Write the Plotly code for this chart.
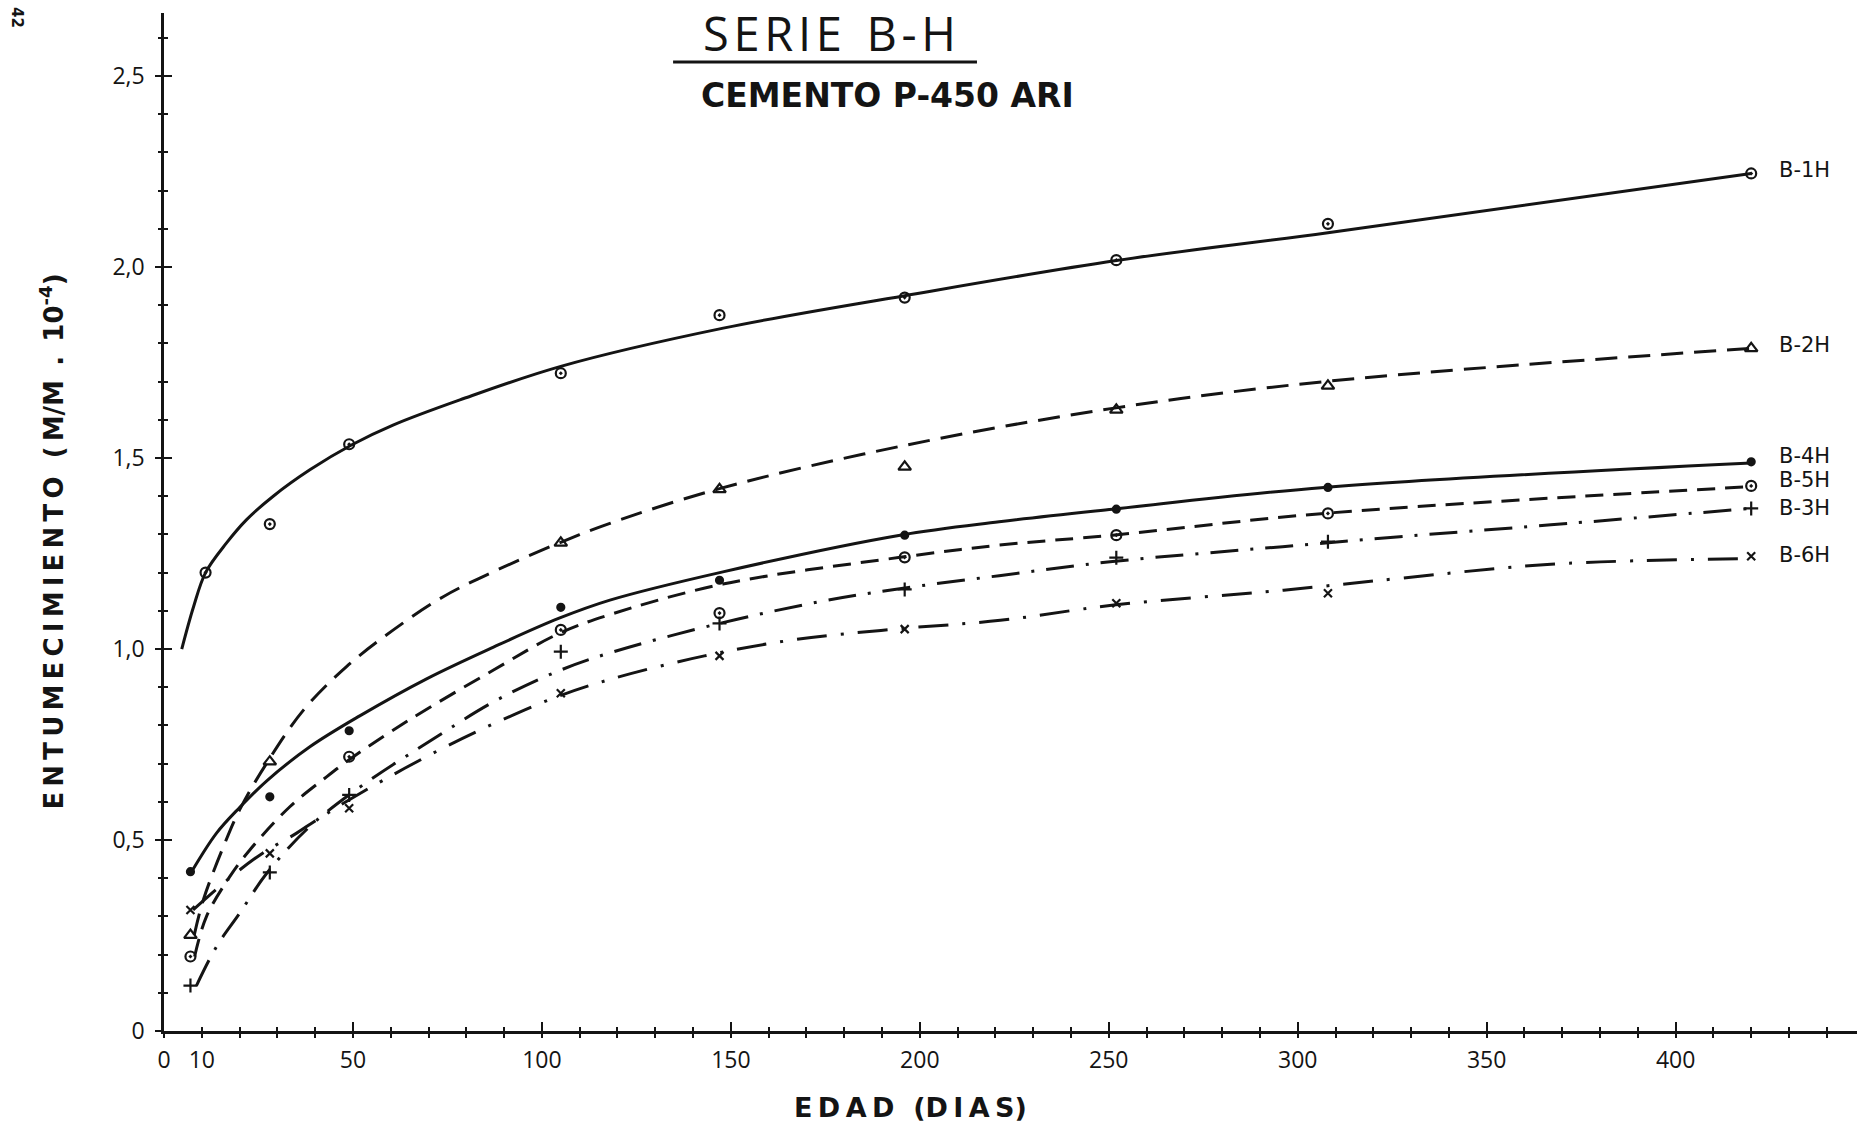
import plotly.graph_objects as go

# ---------------- data ----------------
series_names = ["B-1H", "B-2H", "B-4H", "B-5H", "B-3H", "B-6H"]

# test ages (days) of the plotted measurements
edad = [7, 28, 49, 105, 147, 196, 252, 308, 420]
edad_b1h = [11, 28, 49, 105, 147, 196, 252, 308, 420]

# measured points (None = no point plotted)
b1h_pts = [1.20, 1.327, 1.536, 1.722, 1.874, 1.92, 2.018, 2.113, 2.245]
b2h_pts = [0.251, 0.705, None, 1.278, 1.418, 1.477, 1.626, 1.689, 1.787]
b4h_pts = [0.417, 0.613, 0.786, 1.109, 1.18, 1.298, 1.366, 1.423, 1.49]
b5h_pts = [0.195, None, 0.718, 1.05, 1.094, 1.24, 1.298, 1.355, 1.427]
b3h_pts = [0.119, 0.415, 0.618, 0.993, 1.067, 1.156, 1.239, 1.281, 1.368]
b6h_pts = [0.317, 0.465, 0.583, 0.884, 0.982, 1.052, 1.12, 1.146, 1.243]

# fitted curves
b1h_cx = [4.7, 7.8, 11, 16.5, 21.8, 28.9, 38.6, 49.6, 60.6, 78.3, 105, 148, 196, 252, 308, 420]
b1h_cy = [1.0, 1.11, 1.20, 1.277, 1.338, 1.40, 1.469, 1.534, 1.586, 1.652, 1.74, 1.84, 1.925, 2.017, 2.09, 2.245]

b2h_cx = [8, 10.4, 15.7, 20, 27.1, 36.9, 48.3, 60.7, 73.9, 87.1, 104.4, 118, 147, 195, 251, 307, 420]
b2h_cy = [0.251, 0.343, 0.482, 0.579, 0.70, 0.84, 0.954, 1.05, 1.137, 1.202, 1.277, 1.329, 1.42, 1.531, 1.63, 1.70, 1.787]

b4h_cx = [7.3, 13.9, 20, 27.2, 38.6, 51.8, 69.5, 87.2, 104.4, 118, 147.9, 194.8, 221, 251, 307, 420]
b4h_cy = [0.417, 0.518, 0.585, 0.655, 0.744, 0.825, 0.922, 1.005, 1.08, 1.128, 1.202, 1.298, 1.333, 1.366, 1.423, 1.487]

b5h_cx = [8.1, 11.2, 17.4, 22.7, 33.3, 43.1, 50.1, 64.2, 87.2, 104.4, 118, 147.9, 194.8, 221, 251, 307, 420]
b5h_cy = [0.195, 0.299, 0.404, 0.474, 0.587, 0.666, 0.718, 0.81, 0.945, 1.04, 1.09, 1.17, 1.24, 1.272, 1.298, 1.355, 1.425]

b3h_cx = [8.6, 13.9, 20, 27.2, 38, 49.9, 72.9, 88, 104, 118, 147, 173.6, 193.3, 221, 251, 296, 327, 367, 420]
b3h_cy = [0.119, 0.221, 0.308, 0.413, 0.53, 0.625, 0.775, 0.866, 0.941, 0.99, 1.067, 1.124, 1.156, 1.192, 1.229, 1.268, 1.294, 1.325, 1.368]

b6h_cx = [7.7, 18.3, 26, 35.1, 40.3, 53.1, 72.9, 88.5, 104, 118.9, 143, 166.6, 193.3, 221.3, 251.3, 296.3, 327, 367, 420]
b6h_cy = [0.317, 0.408, 0.465, 0.518, 0.552, 0.629, 0.736, 0.81, 0.875, 0.923, 0.982, 1.024, 1.052, 1.075, 1.115, 1.154, 1.185, 1.222, 1.237]

x_tickvals = [0, 10, 50, 100, 150, 200, 250, 300, 350, 400]
x_major = [50, 100, 150, 200, 250, 300, 350, 400]
y_tickvals = [0, 0.5, 1.0, 1.5, 2.0, 2.5]
y_ticktext = ["0", "0,5", "1,0", "1,5", "2,0", "2,5"]

# ---------------- styling ----------------
INK = "#141414"
THIN = "Open Sans, DejaVu Sans, sans-serif"
BOLD = "DejaVu Sans, Liberation Sans, sans-serif"
TS = "\u2009"   # thin space used for letter spacing
HS = "\u200a"   # hair space


def spaced(text, sep):
    return sep.join(list(text))


styles = {
    "B-1H": dict(dash="solid", symbol="circle-open-dot", size=10, xpts=edad_b1h, dy=3),
    "B-2H": dict(dash="22px,11px", symbol="triangle-up-open", size=11, xpts=edad, dy=3),
    "B-4H": dict(dash="solid", symbol="circle", size=7, xpts=edad, dy=6),
    "B-5H": dict(dash="18px,10px", symbol="circle-open-dot", size=10, xpts=edad, dy=6),
    "B-3H": dict(dash="28px,12px,3px,12px", symbol="cross-thin-open", size=10, xpts=edad, dy=0),
    "B-6H": dict(dash="30px,14px,3px,14px", symbol="x-thin-open", size=8, xpts=edad, dy=1),
}
curves = {
    "B-1H": (b1h_cx, b1h_cy, b1h_pts),
    "B-2H": (b2h_cx, b2h_cy, b2h_pts),
    "B-4H": (b4h_cx, b4h_cy, b4h_pts),
    "B-5H": (b5h_cx, b5h_cy, b5h_pts),
    "B-3H": (b3h_cx, b3h_cy, b3h_pts),
    "B-6H": (b6h_cx, b6h_cy, b6h_pts),
}

fig = go.Figure()
annotations = []
for name in series_names:
    cx, cy, pts = curves[name]
    st = styles[name]
    fig.add_trace(go.Scatter(
        x=cx, y=cy, mode="lines", name=name, showlegend=False,
        line=dict(color=INK, width=3, dash=st["dash"], shape="spline", smoothing=1.0),
        hoverinfo="skip"))
    fig.add_trace(go.Scatter(
        x=st["xpts"], y=pts, mode="markers", name=name, showlegend=False,
        marker=dict(symbol=st["symbol"], size=st["size"], color=INK,
                    line=dict(color=INK, width=2.2))))
    annotations.append(dict(
        x=st["xpts"][-1], y=pts[-1], xref="x", yref="y", text=name, showarrow=False,
        xanchor="left", yanchor="middle", xshift=26, yshift=st["dy"],
        font=dict(family=BOLD, size=21, color=INK)))

# dummy traces so the overlay axes (crossing ticks) are drawn
fig.add_trace(go.Scatter(x=[0], y=[-1], mode="markers", xaxis="x2", yaxis="y2",
                         showlegend=False, hoverinfo="skip", marker=dict(opacity=0)))
fig.add_trace(go.Scatter(x=[0], y=[-1], mode="markers", xaxis="x3", yaxis="y",
                         showlegend=False, hoverinfo="skip", marker=dict(opacity=0)))

ytitle = (spaced("ENTUMECIMIENTO", TS) + "  (" + TS + "M/M" + TS + " . " + TS
          + "10<sup>-4</sup>)")
annotations += [
    dict(xref="paper", yref="paper", x=0.3928, y=0.980,
         text=spaced("SERIE", HS) + "  " + spaced("B-H", HS), showarrow=False,
         xanchor="center", yanchor="middle",
         font=dict(family=THIN, size=47, color=INK)),
    dict(xref="paper", yref="paper", x=0.4273, y=0.9194, text="CEMENTO P-450 ARI", showarrow=False,
         xanchor="center", yanchor="middle",
         font=dict(family=BOLD, size=33, color=INK, weight="bold")),
    dict(xref="paper", yref="paper", x=-0.066, y=0.481, text=ytitle,
         showarrow=False, textangle=-90, xanchor="center", yanchor="middle",
         font=dict(family=BOLD, size=26, color=INK, weight="bold")),
    dict(xref="paper", yref="paper", x=0.441, y=-0.0747,
         text=spaced("EDAD", TS) + "  (" + spaced("DIAS", TS) + ")", showarrow=False,
         xanchor="center", yanchor="middle",
         font=dict(family=BOLD, size=27, color=INK, weight="bold")),
    dict(xref="paper", yref="paper", x=-0.0868, y=0.996, text="42", showarrow=False,
         textangle=90, xanchor="center", yanchor="middle",
         font=dict(family=BOLD, size=15, color=INK, weight="bold")),
]

tickfont = dict(family=THIN, size=23, color=INK)

fig.update_layout(
    width=1867, height=1125,
    margin=dict(l=164, r=10, t=13, b=94),
    paper_bgcolor="white", plot_bgcolor="white",
    showlegend=False,
    annotations=annotations,
    shapes=[dict(type="line", xref="paper", yref="paper",
                 x0=0.3007, x1=0.4802, y0=0.9519, y1=0.9519,
                 line=dict(color=INK, width=3))],
    xaxis=dict(range=[0, 448], showline=True, linecolor=INK, linewidth=2.5,
               showgrid=False, zeroline=False,
               tickmode="array", tickvals=x_tickvals, ticktext=[str(v) for v in x_tickvals],
               ticks="outside", ticklen=4, tickwidth=1.5, tickcolor=INK,
               tickfont=tickfont, ticklabelstandoff=3,
               minor=dict(ticks="outside", ticklen=4, tickwidth=1.5, tickcolor=INK,
                          tickmode="linear", tick0=0, dtick=10, showgrid=False)),
    xaxis2=dict(range=[0, 448], overlaying="x", anchor="y", side="bottom",
                showline=False, showgrid=False, zeroline=False, showticklabels=False,
                tickmode="array", tickvals=x_major,
                ticks="inside", ticklen=9, tickwidth=1.5, tickcolor=INK,
                minor=dict(ticks="inside", ticklen=4, tickwidth=1.5, tickcolor=INK,
                           tickmode="linear", tick0=0, dtick=10, showgrid=False)),
    xaxis3=dict(range=[0, 448], overlaying="x", anchor="y", side="bottom",
                showline=False, showgrid=False, zeroline=False, showticklabels=False,
                tickmode="array", tickvals=x_major,
                ticks="outside", ticklen=6, tickwidth=1.5, tickcolor=INK),
    yaxis=dict(range=[0, 2.665], showline=True, linecolor=INK, linewidth=2.5,
               showgrid=False, zeroline=False,
               tickmode="array", tickvals=y_tickvals, ticktext=y_ticktext,
               ticks="outside", ticklen=6, tickwidth=1.5, tickcolor=INK,
               tickfont=tickfont, ticklabelstandoff=6,
               minor=dict(ticks="outside", ticklen=3, tickwidth=1.5, tickcolor=INK,
                          tickmode="linear", tick0=0, dtick=0.1, showgrid=False)),
    yaxis2=dict(range=[0, 2.665], overlaying="y", anchor="x", side="left",
                showline=False, showgrid=False, zeroline=False, showticklabels=False,
                tickmode="array", tickvals=y_tickvals,
                ticks="inside", ticklen=8, tickwidth=1.5, tickcolor=INK,
                minor=dict(ticks="inside", ticklen=4, tickwidth=1.5, tickcolor=INK,
                           tickmode="linear", tick0=0, dtick=0.1, showgrid=False)),
)

fig.write_html("out.html")
